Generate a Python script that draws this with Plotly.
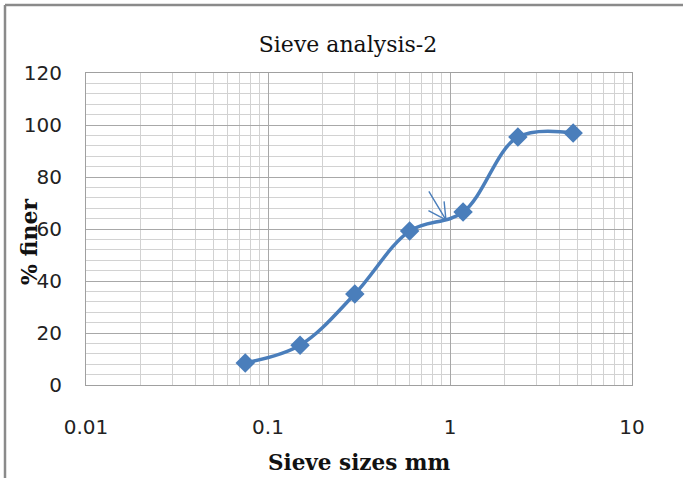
import math
import plotly.graph_objects as go

sieve_mm = [0.075, 0.15, 0.3, 0.6, 1.18, 2.36, 4.75]
pct_finer = [8.5, 15.3, 35.0, 59.2, 66.5, 95.4, 96.9]
x_ticks = [0.01, 0.1, 1, 10]
x_tick_labels = ["0.01", "0.1", "1", "10"]
y_ticks = [0, 20, 40, 60, 80, 100, 120]
arrow_tip = (0.95, 63.5)

BLUE = "#4A7EBB"

fig = go.Figure()
fig.add_trace(go.Scatter(
    x=sieve_mm, y=pct_finer, mode="lines+markers",
    line=dict(color=BLUE, width=3.5, shape="spline", smoothing=1.0),
    marker=dict(symbol="diamond", size=15, color=BLUE, line=dict(width=0)),
    showlegend=False, hoverinfo="skip",
))

tick_font = dict(family="'DejaVu Sans', sans-serif", size=20, color="#222")
serif = "'DejaVu Serif', 'Liberation Serif', serif"

fig.update_layout(
    width=683, height=478,
    margin=dict(l=86, r=51, t=73, b=93, autoexpand=False),
    paper_bgcolor="white", plot_bgcolor="white",
    title=dict(text="Sieve analysis-2", x=348 / 683, xref="container", xanchor="center",
               y=1 - 44 / 478, yref="container", yanchor="middle",
               font=dict(family=serif, size=22, color="#111")),
    xaxis=dict(type="log", range=[-2, 1], tickvals=x_ticks, ticktext=x_tick_labels,
               showgrid=True, gridcolor="#a8a8a8", gridwidth=1,
               minor=dict(showgrid=True, gridcolor="#d2d2d2", gridwidth=1,
                          dtick="D1"),
               showline=True, linecolor="#a0a0a0", linewidth=1, mirror=True,
               zeroline=False, ticks="", ticklabelstandoff=24, tickfont=tick_font,
               automargin=False),
    yaxis=dict(range=[0, 120], tickvals=y_ticks,
               showgrid=True, gridcolor="#a8a8a8", gridwidth=1,
               minor=dict(showgrid=True, gridcolor="#d2d2d2", gridwidth=1, dtick=4),
               showline=True, linecolor="#a0a0a0", linewidth=1, mirror=True,
               zeroline=False, ticks="", ticklabelstandoff=19, tickfont=tick_font,
               automargin=False),
)

# x axis title
fig.add_annotation(text="<b>Sieve sizes mm</b>", xref="paper", yref="paper",
                   x=0.5, y=-77 / 312, xanchor="center", yanchor="middle",
                   showarrow=False,
                   font=dict(family=serif, size=21.5, color="#111"))
# y axis title (overlaps tick labels as in reference)
fig.add_annotation(text="<b>% finer</b>", xref="paper", yref="paper",
                   x=-57 / 546, y=(385 - 242) / 312, xanchor="center", yanchor="middle",
                   textangle=-90, showarrow=False,
                   font=dict(family=serif, size=22, color="#111"))

# hand-drawn open arrow pointing to the curve: shaft plus two arms
for dx, dy in [(-18, -30), (-19, -10), (-2, -20)]:
    fig.add_annotation(x=math.log10(arrow_tip[0]), y=arrow_tip[1], xref="x", yref="y",
                       ax=dx, ay=dy, showarrow=True, arrowhead=0, arrowwidth=1.4,
                       arrowcolor=BLUE, text="", standoff=0, startstandoff=0)

# outer chart border (left and top visible)
fig.add_shape(type="line", xref="paper", yref="paper",
              x0=-81 / 546, x1=-81 / 546, y0=-93 / 312, y1=(385 - 5) / 312,
              line=dict(color="#8a8a8a", width=2.5))
fig.add_shape(type="line", xref="paper", yref="paper",
              x0=-81 / 546, x1=(683 - 86) / 546, y0=(385 - 5) / 312, y1=(385 - 5) / 312,
              line=dict(color="#8a8a8a", width=2.5))

fig.write_html("out.html", config={"displayModeBar": False},
               post_script="document.body.style.margin='0';document.body.style.overflow='hidden';")
